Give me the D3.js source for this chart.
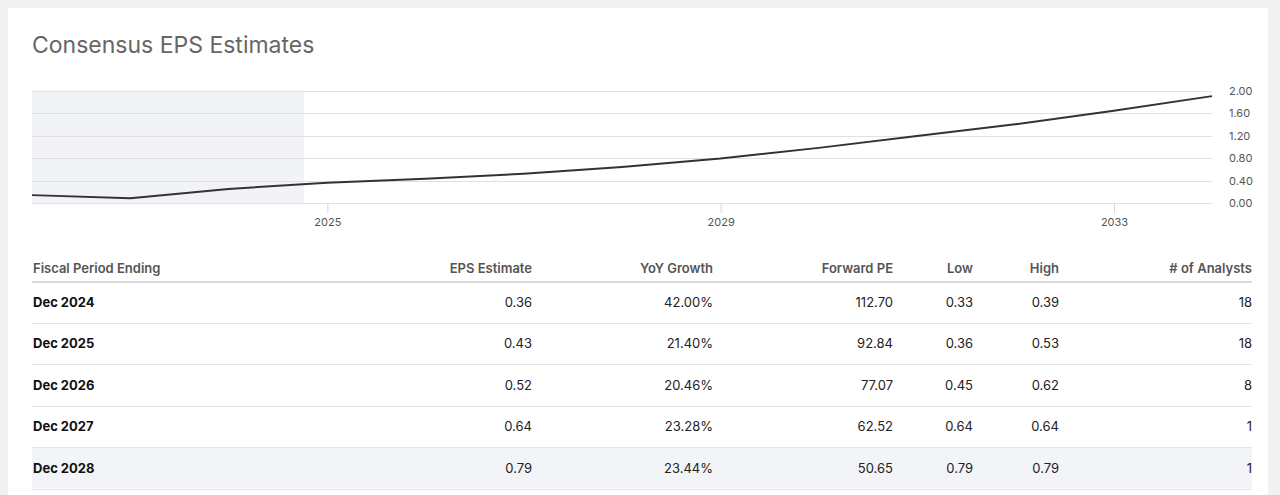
<!DOCTYPE html>
<html>
<head>
<meta charset="utf-8">
<script src="https://cdn.jsdelivr.net/npm/d3@7"></script>
<style>
  html, body { margin: 0; padding: 0; background: #f2f1ef; }
  svg { display: block; font-family: Inter, "Liberation Sans", Arial, sans-serif; }
</style>
</head>
<body>
<svg id="chart" width="1280" height="495"></svg>
<script>
// ---- Data ----
const chartYears = [2021, 2022, 2023, 2024, 2025, 2026, 2027, 2028, 2029, 2030, 2031, 2032, 2033];
const chartEps   = [0.14, 0.085, 0.25, 0.36, 0.43, 0.52, 0.64, 0.79, 0.98, 1.19, 1.40, 1.64, 1.90];
const todayDate  = "2024-10-07";
const xTickYears = [2025, 2029, 2033];
const yTicks     = [0, 0.4, 0.8, 1.2, 1.6, 2.0];

const columns   = ["Fiscal Period Ending", "EPS Estimate", "YoY Growth", "Forward PE", "Low", "High", "# of Analysts"];
const periods   = ["Dec 2024", "Dec 2025", "Dec 2026", "Dec 2027", "Dec 2028"];
const epsEst    = ["0.36", "0.43", "0.52", "0.64", "0.79"];
const yoyGrowth = ["42.00%", "21.40%", "20.46%", "23.28%", "23.44%"];
const forwardPE = ["112.70", "92.84", "77.07", "62.52", "50.65"];
const lows      = ["0.33", "0.36", "0.45", "0.64", "0.79"];
const highs     = ["0.39", "0.53", "0.62", "0.64", "0.79"];
const analysts  = ["18", "18", "8", "1", "1"];

// ---- Layout ----
const svg = d3.select("#chart");
svg.append("rect").attr("x", 8).attr("y", 8).attr("width", 1260).attr("height", 495).attr("fill", "#fff");

svg.append("text").attr("x", 32).attr("y", 53)
  .attr("font-size", 23).attr("fill", "#666").text("Consensus EPS Estimates");

const plotL = 32, plotR = 1212, plotT = 90.5, plotB = 203;
const parse = d => new Date(d);
const x = d3.scaleTime()
  .domain([new Date(2021, 11, 31), new Date(2033, 11, 31)])
  .range([plotL, plotR]);
const y = d3.scaleLinear().domain([0, 2]).range([plotB, plotT]);

// shaded past region
svg.append("rect")
  .attr("x", plotL).attr("y", plotT)
  .attr("width", x(parse(todayDate)) - plotL).attr("height", plotB - plotT)
  .attr("fill", "#f2f3f6");

// grid
svg.append("g").selectAll("line").data(yTicks).join("line")
  .attr("x1", plotL).attr("x2", plotR)
  .attr("y1", d => Math.round(y(d)) + 0.5).attr("y2", d => Math.round(y(d)) + 0.5)
  .attr("stroke", "#e1e1e1").attr("stroke-width", 1.2);

// y axis labels
const yAxis = d3.axisRight(y).tickValues(yTicks).tickFormat(d3.format(".2f")).tickSize(0).tickPadding(17);
const gy = svg.append("g").attr("transform", `translate(${plotR},0)`).call(yAxis);
gy.select(".domain").remove();
gy.selectAll("text").attr("font-size", 11).attr("fill", "#555").attr("font-family", "Inter, Arial, sans-serif");

// x axis
const xAxis = d3.axisBottom(x).tickValues(xTickYears.map(yr => new Date(yr, 0, 1)))
  .tickFormat(d3.timeFormat("%Y")).tickSize(10).tickPadding(5);
const gx = svg.append("g").attr("transform", `translate(0,${plotB})`).call(xAxis);
gx.select(".domain").remove();
gx.selectAll("line").attr("stroke", "#d6d6d6");
gx.selectAll("text").attr("font-size", 11).attr("fill", "#555").attr("font-family", "Inter, Arial, sans-serif");

// line
const line = d3.line()
  .x((d, i) => x(new Date(chartYears[i], 11, 31)))
  .y(d => y(d));
svg.append("path").datum(chartEps)
  .attr("d", line).attr("fill", "none").attr("stroke", "#333").attr("stroke-width", 2)
  .attr("stroke-linejoin", "round");

// ---- Table ----
const tblL = 32, tblR = 1252;
const colRight = [null, 532, 713, 893, 973, 1059, 1252];
const headerBase = 273;
const rowH = 41.4;
const firstSep = 323;

const rows = periods.map((p, i) => [p, epsEst[i], yoyGrowth[i], forwardPE[i], lows[i], highs[i], analysts[i]]);

// last row highlight
svg.append("rect")
  .attr("x", tblL).attr("y", firstSep + 3 * rowH).attr("width", tblR - tblL).attr("height", rowH)
  .attr("fill", "#f3f4f7");

// header
svg.append("g").selectAll("text").data(columns).join("text")
  .attr("x", (d, i) => i === 0 ? 33 : colRight[i])
  .attr("y", headerBase)
  .attr("text-anchor", (d, i) => i === 0 ? "start" : "end")
  .attr("font-size", 13).attr("font-weight", 600).attr("fill", "#555")
  .text(d => d);

svg.append("line").attr("x1", tblL).attr("x2", tblR).attr("y1", 282).attr("y2", 282)
  .attr("stroke", "#d9d9d9").attr("stroke-width", 2);

// row separators
svg.append("g").selectAll("line").data(periods).join("line")
  .attr("x1", tblL).attr("x2", tblR)
  .attr("y1", (d, i) => Math.round(firstSep + i * rowH) + 0.5)
  .attr("y2", (d, i) => Math.round(firstSep + i * rowH) + 0.5)
  .attr("stroke", "#e4e4e4").attr("stroke-width", 1);

// cells
const gRows = svg.append("g").selectAll("g").data(rows).join("g")
  .attr("transform", (d, i) => `translate(0,${307 + i * rowH})`);
gRows.selectAll("text").data(d => d).join("text")
  .attr("x", (d, i) => i === 0 ? 33 : colRight[i])
  .attr("y", 0)
  .attr("text-anchor", (d, i) => i === 0 ? "start" : "end")
  .attr("font-size", 13)
  .attr("font-weight", (d, i) => i === 0 ? 700 : 400)
  .attr("fill", (d, i) => i === 0 ? "#111" : "#222")
  .text(d => d);
</script>
</body>
</html>
